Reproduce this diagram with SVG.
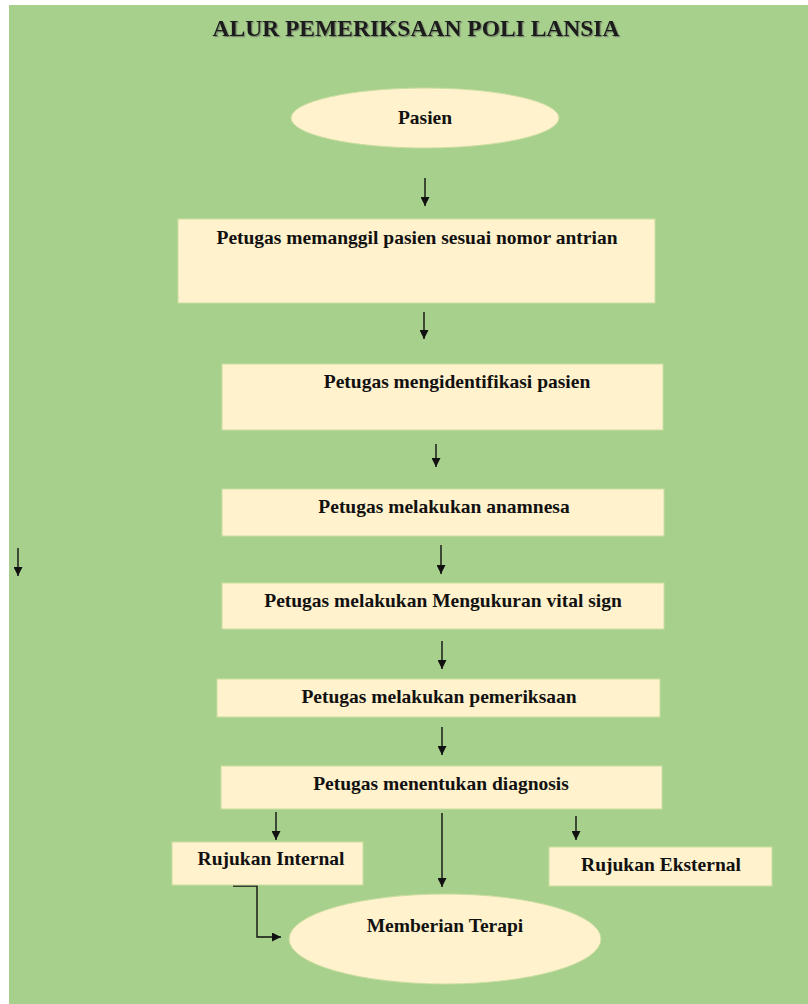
<svg xmlns="http://www.w3.org/2000/svg" width="808" height="1004" viewBox="0 0 808 1004">
<defs>
<style>
.bg{fill:#A8D08D}
.box{fill:#FFF2CC;stroke:#C9DDA0;stroke-width:1}
.t{font-family:"Liberation Serif","Times New Roman",serif;font-weight:bold;font-size:19.5px;fill:#111;text-anchor:middle}
.title{font-family:"Liberation Serif","Times New Roman",serif;font-weight:bold;font-size:24px;fill:#1a1a1a;text-anchor:middle}
.c{stroke:#111;stroke-width:1.4;fill:none}
</style>
<marker id="ah" viewBox="0 0 10 10" refX="10" refY="5" markerWidth="9" markerHeight="9" markerUnits="userSpaceOnUse" orient="auto">
<path d="M0,0 L10,5 L0,10 z" fill="#111"/>
</marker>
<filter id="sh" x="-5%" y="-20%" width="110%" height="140%">
<feDropShadow dx="1.2" dy="1.2" stdDeviation="0.6" flood-color="#555" flood-opacity="0.6"/>
</filter>
</defs>
<rect x="0" y="0" width="808" height="1004" fill="#ffffff"/>
<rect class="bg" x="9" y="5" width="799" height="999"/>
<text class="title" x="416" y="36" textLength="407" lengthAdjust="spacingAndGlyphs" filter="url(#sh)">ALUR PEMERIKSAAN POLI LANSIA</text>
<g id="connectors">
<line class="c" x1="425" y1="178" x2="425" y2="206" marker-end="url(#ah)"/>
<line class="c" x1="424" y1="312" x2="424" y2="339" marker-end="url(#ah)"/>
<line class="c" x1="436" y1="444" x2="436" y2="467" marker-end="url(#ah)"/>
<line class="c" x1="441" y1="545" x2="441" y2="574" marker-end="url(#ah)"/>
<line class="c" x1="442" y1="641" x2="442" y2="669" marker-end="url(#ah)"/>
<line class="c" x1="442" y1="727" x2="442" y2="755" marker-end="url(#ah)"/>
<line class="c" x1="18" y1="548" x2="18" y2="576" marker-end="url(#ah)"/>
<line class="c" x1="276" y1="812" x2="276" y2="840" marker-end="url(#ah)"/>
<line class="c" x1="442" y1="813" x2="442" y2="887" marker-end="url(#ah)"/>
<line class="c" x1="576" y1="816" x2="576" y2="840" marker-end="url(#ah)"/>
<path class="c" d="M233,886 H257 V937 H281" stroke-width="1" marker-end="url(#ah)"/>
</g>
<g id="pasien">
<ellipse class="box" cx="425" cy="118" rx="134" ry="30"/>
<text class="t" x="425" y="124">Pasien</text>
</g>
<g id="memanggil">
<rect class="box" x="178" y="219" width="477" height="84"/>
<text class="t" x="417" y="244">Petugas memanggil pasien sesuai nomor antrian</text>
</g>
<g id="identifikasi">
<rect class="box" x="222" y="364" width="441" height="66"/>
<text class="t" x="457" y="388">Petugas mengidentifikasi pasien</text>
</g>
<g id="anamnesa">
<rect class="box" x="222" y="489" width="442" height="47"/>
<text class="t" x="444" y="513">Petugas melakukan anamnesa</text>
</g>
<g id="vital">
<rect class="box" x="222" y="583" width="442" height="46"/>
<text class="t" x="443" y="607">Petugas melakukan Mengukuran vital sign</text>
</g>
<g id="pemeriksaan">
<rect class="box" x="217" y="679" width="443" height="38"/>
<text class="t" x="439" y="703">Petugas melakukan pemeriksaan</text>
</g>
<g id="diagnosis">
<rect class="box" x="221" y="766" width="441" height="43"/>
<text class="t" x="441" y="790">Petugas menentukan diagnosis</text>
</g>
<g id="rujukan-internal">
<rect class="box" x="172" y="842" width="191" height="43"/>
<text class="t" x="271" y="865">Rujukan Internal</text>
</g>
<g id="rujukan-eksternal">
<rect class="box" x="549" y="847" width="223" height="39"/>
<text class="t" x="661" y="871">Rujukan Eksternal</text>
</g>
<g id="terapi">
<ellipse class="box" cx="445" cy="939" rx="156" ry="45"/>
<text class="t" x="445" y="932">Memberian Terapi</text>
</g>
</svg>
